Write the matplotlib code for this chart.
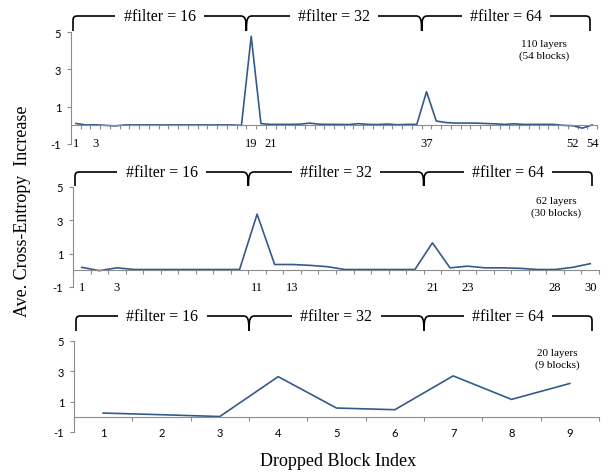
import numpy as np
import matplotlib
matplotlib.use('Agg')
import matplotlib.pyplot as plt
from matplotlib.path import Path
from matplotlib.patches import PathPatch
from matplotlib.transforms import IdentityTransform

plt.rcParams['axes.unicode_minus'] = False

# values
drop_110 = [0.10, 0.02, 0.03, 0.00, -0.03, 0.02, 0.02, 0.02, 0.02, 0.02,
            0.02, 0.02, 0.02, 0.02, 0.02, 0.02, 0.02, 0.00, 4.77, 0.09,
            0.05, 0.05, 0.05, 0.06, 0.12, 0.06, 0.05, 0.05, 0.04, 0.09,
            0.05, 0.04, 0.07, 0.03, 0.05, 0.05, 1.80, 0.23, 0.15, 0.12,
            0.12, 0.12, 0.10, 0.08, 0.05, 0.08, 0.05, 0.05, 0.05, 0.05,
            0.00, -0.02, -0.15, 0.02]
drop_62 = [0.18, -0.02, 0.15, 0.05, 0.05, 0.05, 0.05, 0.05, 0.05, 0.05,
           3.37, 0.35, 0.35, 0.30, 0.22, 0.05, 0.05, 0.05, 0.05, 0.05,
           1.65, 0.15, 0.25, 0.15, 0.15, 0.12, 0.05, 0.05, 0.18, 0.40]
drop_20 = [0.25, 0.14, 0.02, 2.65, 0.58, 0.47, 2.70, 1.15, 2.20]

labels_110 = [1, 3, 19, 21, 37, 52, 54]
labels_62 = [1, 3, 11, 13, 21, 23, 28, 30]
labels_20 = [1, 2, 3, 4, 5, 6, 7, 8, 9]

# group boundaries (last block of #filter=16 and #filter=32 stages)
groups_110 = [18, 36]
groups_62 = [10, 20]
groups_20 = [3, 6]

group_names = ['#filter = 16', '#filter = 32', '#filter = 64']
notes = ['110 layers\n(54 blocks)', '62 layers\n(30 blocks)', '20 layers\n(9 blocks)']

W, H = 608, 477
fig = plt.figure(figsize=(W / 100, H / 100), dpi=100)

serif = 'Liberation Serif'
sans = 'Lato'
line_col = '#345A8A'
axis_col = '#8C8C8C'

# axes boxes in pixels: left, right, top, bottom
boxes = [(71, 597, 33, 145), (73, 599, 188, 288), (74, 599, 342, 433)]
series = [drop_110, drop_62, drop_20]
tick_sets = [labels_110, labels_62, labels_20]
group_sets = [groups_110, groups_62, groups_20]
xfonts = [serif, serif, sans]
xsizes = [9, 9, 8]
xpads = [8.5, 7.5, 7.5]
# bracket line height and leg bottom, pixels above axes top
brk = [(16, 1), (15, 1), (25, 10)]
note_pos = [(0.90, 0.94), (0.918, 0.91), (0.92, 0.92)]


def bracket(ax, xs_data, top_px, bot_px, n):
    # curly bracket across the top of an axes, drawn in display pixels
    xl = ax.transData.transform((0.5, 0))[0] + 2
    xr = ax.transData.transform((n + 0.5, 0))[0] - 7
    y0 = ax.transAxes.transform((0, 1))[1]
    yt = y0 + top_px
    yb = y0 + bot_px
    r = 5
    verts = [(xl, yb), (xl, yt - r), (xl, yt - 1), (xl + 1, yt), (xl + r, yt)]
    codes = [Path.MOVETO, Path.LINETO, Path.CURVE4, Path.CURVE4, Path.CURVE4]
    for b in xs_data:
        xc = ax.transData.transform((b + 0.5, 0))[0]
        verts += [(xc - 6, yt), (xc - 1, yt), (xc, yt - 3), (xc, yb),
                  (xc, yt - 3), (xc + 1, yt), (xc + 6, yt)]
        codes += [Path.LINETO, Path.CURVE4, Path.CURVE4, Path.CURVE4,
                  Path.CURVE4, Path.CURVE4, Path.CURVE4]
    verts += [(xr - r, yt), (xr - 1, yt), (xr, yt - 1), (xr, yt - r), (xr, yb)]
    codes += [Path.LINETO, Path.CURVE4, Path.CURVE4, Path.CURVE4, Path.LINETO]
    patch = PathPatch(Path(verts, codes), fill=False, lw=1.2, edgecolor='black',
                      transform=IdentityTransform(), zorder=2)
    fig.add_artist(patch)
    # labels centred on each segment
    edges = [xl] + [ax.transData.transform((b + 0.5, 0))[0] for b in xs_data] + [xr]
    for k, name in enumerate(group_names):
        xm = (edges[k] + edges[k + 1]) / 2
        fig.text(xm / W, yt / H, name, ha='center', va='center', fontsize=11.5,
                 family=serif, zorder=3,
                 bbox=dict(facecolor='white', edgecolor='none', pad=6))


for i in range(3):
    l, r, t, b = boxes[i]
    ax = fig.add_axes([l / W, 1 - b / H, (r - l) / W, (b - t) / H])
    vals = series[i]
    n = len(vals)
    idx = np.arange(1, n + 1)
    ax.plot(idx, vals, color=line_col, lw=1.2)
    ax.set_xlim(0.5, n + 0.5)
    ax.set_ylim(-1, 5)

    for s in ['top', 'right']:
        ax.spines[s].set_visible(False)
    ax.spines['left'].set_color(axis_col)
    ax.spines['bottom'].set_color(axis_col)
    ax.spines['bottom'].set_position(('data', 0))

    ax.set_yticks([-1, 1, 3, 5])
    ax.tick_params(axis='y', length=3, width=0.8, color=axis_col, pad=4,
                   labelsize=8)
    for lab in ax.get_yticklabels():
        lab.set_family(sans)

    ax.set_xticks(tick_sets[i])
    ax.set_xticklabels([str(v) for v in tick_sets[i]])
    ax.set_xticks(np.arange(0.5, n + 1), minor=True)
    ax.tick_params(axis='x', which='major', length=0, pad=xpads[i],
                   labelsize=xsizes[i])
    ax.tick_params(axis='x', which='minor', length=3, width=0.8,
                   color=axis_col, direction='out')
    for lab in ax.get_xticklabels():
        lab.set_family(xfonts[i])

    ax.text(note_pos[i][0], note_pos[i][1], notes[i], transform=ax.transAxes,
            ha='center', va='top', fontsize=8, family=serif, linespacing=1.3)

    bracket(ax, group_sets[i], brk[i][0], brk[i][1], n)

fig.text(23 / W, 1 - 211 / H, 'Ave. Cross-Entropy  Increase', rotation=90,
         ha='center', va='center', fontsize=13, family=serif)
fig.text(338 / W, 1 - 462 / H, 'Dropped Block Index', ha='center', va='center',
         fontsize=13, family=serif)

fig.savefig('out.png', dpi=100)
